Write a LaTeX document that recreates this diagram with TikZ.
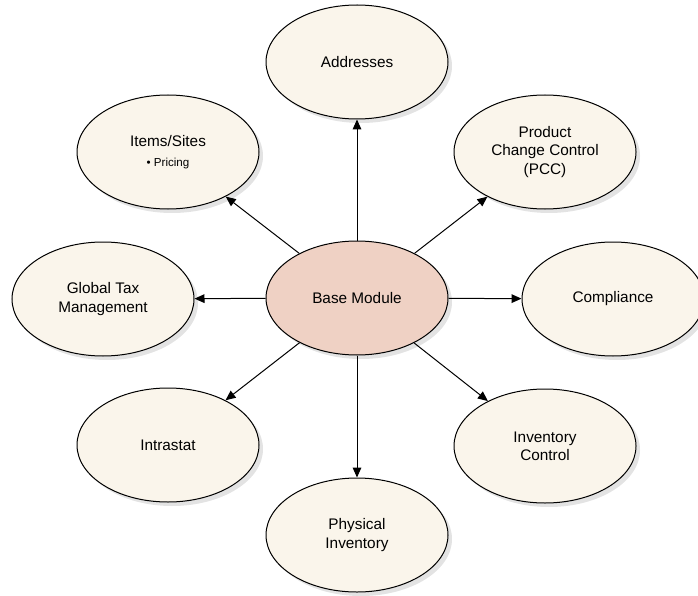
\documentclass[tikz,border=0pt]{standalone}
\usepackage{fontspec}
\setmainfont{Liberation Sans}
\usetikzlibrary{shapes.geometric,shadows,arrows.meta}
\definecolor{satfill}{HTML}{FAF5EB}
\definecolor{basefill}{HTML}{EFD1C4}

\begin{document}
\begin{tikzpicture}[x=0.75pt, y=-0.75pt,
		module/.style={ellipse, draw=black, line width=0.75pt, fill=satfill,
			minimum width=136.5pt, minimum height=85.5pt, inner sep=0pt, align=center,
			font=\fontsize{11.5}{13.6}\selectfont,
			drop shadow={shadow xshift=3pt, shadow yshift=-3pt, fill=black!22}},
		link/.style={line width=0.75pt, -{Triangle[length=7.5pt, width=6.5pt]}}]
		\useasboundingbox (0, 0) rectangle (698, 595);

		\node[module, fill=basefill] (base) at (357, 298) {Base Module};

		\node[module] (addr) at (357, 62) {Addresses};
		\node[module] (items) at (168, 152) {Items/Sites\\[1pt]{\fontsize{8.7}{10}\selectfont\textbullet{} Pricing}};
		\node[module] (pcc) at (545, 152) {Product\\Change Control\\(PCC)};
		\node[module] (gtax) at (103, 299) {Global Tax\\Management};
		\node[module] (comp) at (613, 299) {Compliance};
		\node[module] (intra) at (168, 445) {Intrastat};
		\node[module] (invctl) at (545, 446) {Inventory\\Control};
		\node[module] (phys) at (357, 535) {Physical\\Inventory};

		\draw[link] (base) -- (addr);
		\draw[link] (base) -- (items);
		\draw[link] (base) -- (pcc);
		\draw[link] (base) -- (gtax);
		\draw[link] (base) -- (comp);
		\draw[link] (base) -- (intra);
		\draw[link] (base) -- (invctl);
		\draw[link] (base) -- (phys);
	\end{tikzpicture}
\end{document}
